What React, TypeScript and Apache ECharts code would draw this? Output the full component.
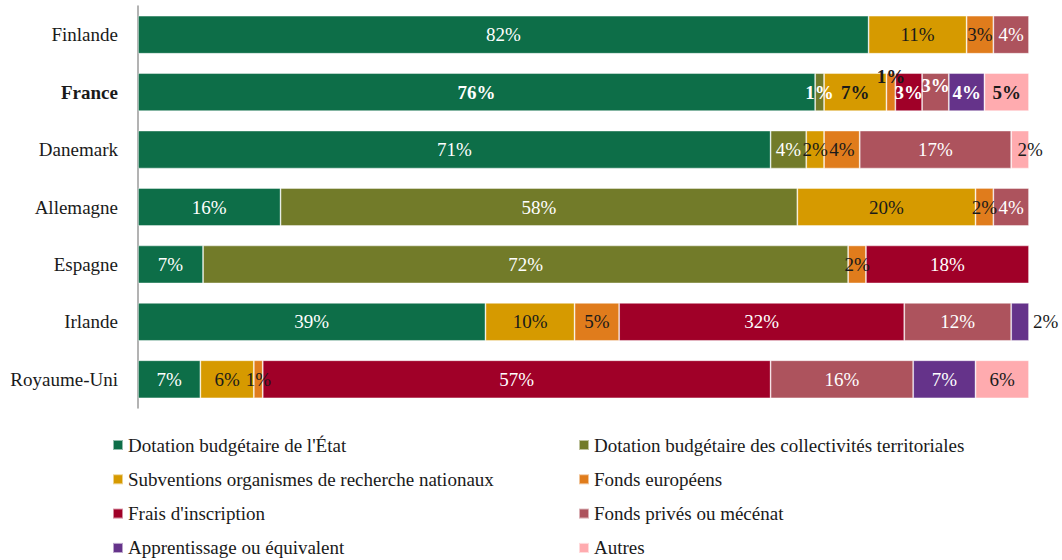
import React, { useEffect, useRef } from "react";
import * as echarts from "echarts";

const countries = ["Finlande", "France", "Danemark", "Allemagne", "Espagne", "Irlande", "Royaume-Uni"];

const seriesNames = [
  "Dotation budgétaire de l'État",
  "Dotation budgétaire des collectivités territoriales",
  "Subventions organismes de recherche nationaux",
  "Fonds européens",
  "Frais d'inscription",
  "Fonds privés ou mécénat",
  "Apprentissage ou équivalent",
  "Autres",
];

const etat = [82, 76, 71, 16, 7.3, 39, 7];
const collectivites = [null, 1, 4, 58, 72.4, null, null];
const organismes = [11, 7, 2, 20, null, 10, 6];
const europeens = [3, 1, 4, 2, 2, 5, 1];
const inscription = [null, 3, null, null, 18.3, 32, 57];
const prives = [4, 3, 17, 4, null, 12, 16];
const apprentissage = [null, 4, null, null, null, 2, 7];
const autres = [null, 5, 2, null, null, null, 6];

const seriesValues = [etat, collectivites, organismes, europeens, inscription, prives, apprentissage, autres];

const colors = ["#0D6E48", "#727B29", "#D69A00", "#E07C1C", "#A00028", "#AD535D", "#65338A", "#FFABAF"];
const labelColors = ["#ffffff", "#ffffff", "#1a1a1a", "#1a1a1a", "#ffffff", "#ffffff", "#ffffff", "#1a1a1a"];

const FONT = "'Liberation Serif', 'Times New Roman', serif";

// label position tweaks: [seriesIndex, categoryIndex] -> label override
const labelTweaks: Record<string, any> = {
  "3-1": { offset: [0, -16] },
  "5-1": { offset: [0, -7] },
  "6-5": { position: "right", distance: 4, color: "#1a1a1a" },
  "7-2": { offset: [10, 0] },
};

export default function App() {
  const ref = useRef<HTMLDivElement>(null);
  useEffect(() => {
    if (!ref.current) return;
    const chart = echarts.init(ref.current, undefined, { renderer: "svg" });
    const series = seriesNames.map((name, si) => ({
      name,
      type: "bar",
      stack: "total",
      barWidth: 38,
      itemStyle: { color: colors[si], borderColor: "rgba(255,255,255,0.55)", borderWidth: 0.8 },
      label: {
        show: true,
        position: "inside",
        color: labelColors[si],
        fontFamily: FONT,
        fontSize: 19,
        formatter: (p: any) => (p.value == null ? "" : Math.round(p.value) + "%"),
      },
      data: seriesValues[si].map((v, ci) => {
        const tweak = labelTweaks[`${si}-${ci}`] || {};
        const bold = countries[ci] === "France" ? { fontWeight: "bold" } : {};
        return { value: v, label: { ...bold, ...tweak } };
      }),
    }));

    const legendBase = {
      orient: "vertical",
      icon: "rect",
      itemWidth: 10,
      itemHeight: 10,
      itemGap: 14.3,
      padding: 0,
      height: 150,
      selectedMode: false,
      textStyle: { fontFamily: FONT, fontSize: 19, color: "#1a1a1a", lineHeight: 20 },
      top: 435,
    };

    chart.setOption({
      animation: false,
      grid: { left: 138, right: 33, top: 6, height: 402, containLabel: false },
      xAxis: { type: "value", min: 0, max: 100, show: false },
      yAxis: {
        type: "category",
        data: countries,
        inverse: true,
        axisLine: { show: true, lineStyle: { color: "#9a9a9a", width: 1.5 } },
        axisTick: { show: false },
        axisLabel: {
          margin: 20,
          fontFamily: FONT,
          fontSize: 19,
          color: "#1a1a1a",
          formatter: (v: string) => (v === "France" ? `{b|${v}}` : v),
          rich: { b: { fontFamily: FONT, fontSize: 19, fontWeight: "bold", color: "#1a1a1a" } },
        },
      },
      legend: [
        { ...legendBase, left: 112, data: [seriesNames[0], seriesNames[2], seriesNames[4], seriesNames[6]] },
        { ...legendBase, left: 578, data: [seriesNames[1], seriesNames[3], seriesNames[5], seriesNames[7]] },
      ],
      series,
    });
    return () => chart.dispose();
  }, []);
  return (
    <div
      ref={ref}
      style={{ position: "fixed", left: 0, top: 0, width: 1062, height: 560, background: "#ffffff" }}
    />
  );
}
